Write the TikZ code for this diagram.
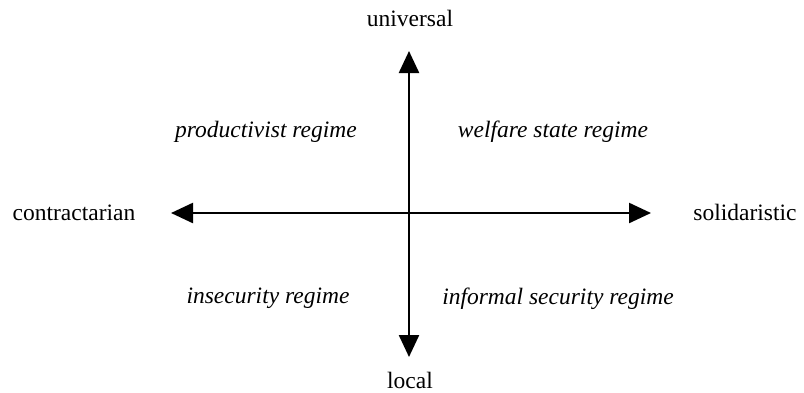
\documentclass[tikz,border=0pt]{standalone}
\usepackage{fontspec}
\setmainfont{Liberation Serif}
\usetikzlibrary{arrows.meta}
\tikzset{
  axis/.style={line width=2.4pt, -{Triangle[length=22pt,width=20pt]}},
  lbl/.style={anchor=base, inner sep=0pt, font=\fontsize{23.5}{28}\selectfont},
  reg/.style={lbl, font=\fontsize{23.5}{28}\selectfont\itshape}
}
\begin{document}
\begin{tikzpicture}[x=1pt,y=-1pt]
\useasboundingbox (0,0) rectangle (804,392);
\coordinate (c) at (409,213);
\coordinate (top) at (409,51);
\coordinate (bot) at (409,357);
\coordinate (lft) at (171,213);
\coordinate (rgt) at (651,213);
\draw[axis] (c) -- (top);
\draw[axis] (c) -- (bot);
\draw[axis] (c) -- (lft);
\draw[axis] (c) -- (rgt);
\node[lbl] (u) at (410,26) {universal};
\node[lbl] (l) at (410,388) {local};
\node[lbl] (ct) at (74,220) {contractarian};
\node[lbl] (so) at (745,220) {solidaristic};
\node[reg] (pr) at (266,137) {productivist regime};
\node[reg] (we) at (553,137) {welfare state regime};
\node[reg] (in) at (268,303) {insecurity regime};
\node[reg] (is) at (558,304) {informal security regime};
\end{tikzpicture}
\end{document}
